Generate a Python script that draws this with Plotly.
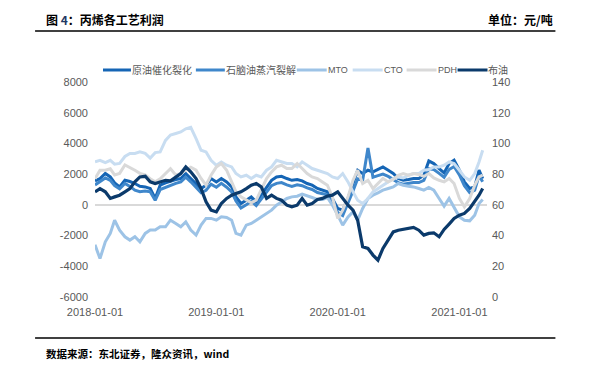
import plotly.graph_objects as go

dates = [
    "2018-01-01", "2018-01-16", "2018-02-01", "2018-02-16", "2018-03-01", "2018-03-16",
    "2018-04-01", "2018-04-16", "2018-05-01", "2018-05-16", "2018-06-01", "2018-06-16",
    "2018-07-01", "2018-07-16", "2018-08-01", "2018-08-16", "2018-09-01", "2018-09-16",
    "2018-10-01", "2018-10-16", "2018-11-01", "2018-11-16", "2018-12-01", "2018-12-16",
    "2019-01-01", "2019-01-16", "2019-02-01", "2019-02-16", "2019-03-01", "2019-03-16",
    "2019-04-01", "2019-04-16", "2019-05-01", "2019-05-16", "2019-06-01", "2019-06-16",
    "2019-07-01", "2019-07-16", "2019-08-01", "2019-08-16", "2019-09-01", "2019-09-16",
    "2019-10-01", "2019-10-16", "2019-11-01", "2019-11-16", "2019-12-01", "2019-12-16",
    "2020-01-01", "2020-01-16", "2020-02-01", "2020-02-16", "2020-03-01", "2020-03-16",
    "2020-04-01", "2020-04-16", "2020-05-01", "2020-05-16", "2020-06-01", "2020-06-16",
    "2020-07-01", "2020-07-16", "2020-08-01", "2020-08-16", "2020-09-01", "2020-09-16",
    "2020-10-01", "2020-10-16", "2020-11-01", "2020-11-16", "2020-12-01", "2020-12-16",
    "2021-01-01", "2021-01-16", "2021-02-01", "2021-02-16", "2021-03-01", "2021-03-12",
]

crude_fcc = [
    1560, 1715, 2040, 1820, 1430, 1170, 1600, 1520, 1390, 1215, 1170, 1065, 415, 1280, 1430, 1560, 1650, 1715, 2040, 1715,
    1390, 1065, 1280, 1715, 1495, 1715, 1495, 1170, 520, 90, 305, 520, 195, 630, 1170, 1600, 1820, 1860, 1715, 1600,
    1650, 1560, 1390, 1280, 1065, 955, 845, 415, -235, -345, 415, 1390, 2255, 2040, 2255, 2145, 2300, 2470, 2255, 2040,
    1715, 1600, 1650, 1715, 1715, 1930, 2860, 2690, 2365, 2080, 2690, 2905, 2255, 1495, 1065, 1170, 2255, 1715,
]
naphtha = [
    1300, 1500, 1750, 1600, 1250, 1050, 1400, 1200, 950, 850, 900, 850, 300, 1000, 1150, 1300, 1400, 1500, 1800, 1500,
    1100, 800, 950, 1350, 1150, 1400, 1150, 850, 250, -200, 0, 250, -50, 350, 850, 1250, 1400, 1450, 1300, 1200,
    1300, 1250, 1100, 1000, 800, 700, 650, 150, -500, -700, 100, 900, 1700, 1600, 3700, 1800, 1900, 2000, 1850, 1650,
    1450, 1350, 1400, 1450, 1450, 1600, 2350, 2300, 2050, 1800, 2300, 2500, 1950, 1250, 800, 950, 1900, 1500,
]
mto = [
    -2600, -3500, -2405, -1860, -1000, -1645, -2080, -2295, -2080, -2405, -1860, -1645, -1645, -1430, -1430, -1000, -1210, -1430, -1105, -1645,
    -1970, -1320, -885, -885, -1000, -780, -820, -1000, -1860, -1970, -1320, -1210, -1000, -780, -560, -345, -20, 195, 415, 520,
    565, 695, 565, 480, 350, 350, 480, -20, -670, -1320, -780, -455, -1000, -235, 415, 630, 780, 955, 1065, 1170,
    1390, 1280, 1215, 1170, 1065, 955, 1130, 955, 415, -85, 415, -130, -780, -1000, -1040, -670, 90, 350,
]
cto = [
    2800, 2900, 2750, 2900, 2650, 2700, 3150, 3350, 3350, 3450, 3350, 3050, 3400, 3450, 4200, 4550, 4650, 4750, 4950, 5050,
    4315, 3555, 3445, 2905, 2580, 2795, 2580, 2470, 2040, 1820, 1930, 1715, 1930, 1820, 2255, 2470, 2905, 2795, 2690, 2690,
    2470, 2800, 2580, 2365, 2255, 2145, 2040, 1820, 1715, 2040, 1495, 845, 305, 90, 415, 845, 1065, 1280, 1495, 1715,
    1820, 1750, 1930, 2040, 2040, 2255, 2300, 2470, 2470, 2580, 2795, 2690, 2255, 1820, 1600, 2040, 2795, 3555,
]
pdh = [
    1700, 2250, 2250, 2350, 1950, 2050, 2600, 2450, 2250, 2050, 1950, 1700, 1500, 1700, 2050, 2350, 1950, 2050, 2250, 2450,
    2255, 1715, 1280, 1930, 2470, 2690, 2255, 1495, 845, 520, 305, 130, 305, 955, 1715, 2145, 2470, 2580, 2365, 2365,
    2690, 2365, 2040, 1820, 1715, 1495, 1280, 520, -885, -345, 520, 1600, 2255, 1390, 1600, 1065, 1390, 1715, 1495, 1650,
    1930, 2040, 1930, 2040, 1980, 1850, 2040, 1750, 1600, 1495, 1715, 1390, 415, -130, 415, 1280, 1820, 1930,
]
brent = [
    68.5, 70.6, 68.5, 64.2, 65.2, 66.3, 68.5, 70.6, 75, 78.2, 78.6, 75, 73.9, 75, 76, 75.6, 78.2, 80.4, 84.7, 81.5,
    77.1, 70.6, 62, 56.6, 55.4, 60.9, 64.2, 66.3, 67.4, 68.5, 70.6, 72.8, 73.9, 71.7, 64.2, 66.3, 64.2, 63, 59.8, 58.7,
    59.8, 64.2, 59.8, 60.9, 63.5, 64.2, 65.7, 66.3, 68.5, 64.2, 59.8, 56.6, 50, 32.7, 31.6, 27.3, 24, 31.6, 37, 42.4,
    43.5, 44, 44.6, 45.3, 43.5, 40.3, 41.4, 41.8, 39.2, 44, 47.5, 51.1, 53.3, 54.4, 57.7, 62, 66.3, 70.6,
]

series_names = ["原油催化裂化", "石脑油蒸汽裂解", "MTO", "CTO", "PDH", "布油"]
colors = ["#1565B5", "#3F87CB", "#9DC3E6", "#C8DDF1", "#D9D9D9", "#0B3A6B"]

left_ticks = [8000, 6000, 4000, 2000, 0, -2000, -4000, -6000]
left_ticktext = ["8000", "6000", "4000", "2000", "0", "-2000", "-4000", "-6000"]
right_ticks = [0, 20, 40, 60, 80, 100, 120, 140]
x_ticks = ["2018-01-01", "2019-01-01", "2020-01-01", "2021-01-01"]

# the page body adds an 8px margin, so the figure is drawn 8px in from the window corner
OFF = 8
W, H = 608 - OFF, 386 - OFF
PLOT_L, PLOT_R, PLOT_T, PLOT_B = 95, 487.5, 82, 297   # plot area in window pixels
L, R = PLOT_L - OFF, W - (PLOT_R - OFF)
T, B = PLOT_T - OFF, H - (PLOT_B - OFF)
PW, PH = W - L - R, H - T - B


def fx(px):
    return (px - OFF - L) / PW


def fy(py):
    return (H - B - (py - OFF)) / PH


fig = go.Figure()
left_data = [crude_fcc, naphtha, mto, cto, pdh]
for name, vals, col in zip(series_names[:5], left_data, colors[:5]):
    fig.add_trace(go.Scatter(x=dates, y=vals, name=name, mode="lines",
                             line=dict(color=col, width=3)))
fig.add_trace(go.Scatter(x=dates, y=brent, name=series_names[5], mode="lines",
                         line=dict(color=colors[5], width=3.2), yaxis="y2"))

tick_font = dict(family="Liberation Sans, Arial, sans-serif", size=11, color="#595959")
cjk = "Noto Sans CJK SC, sans-serif"

# custom single-row legend (symbol start pixel, symbol end pixel)
legend_pos = [(103, 131), (196, 225), (297, 327), (353, 383), (407, 437), (458, 488)]
shapes = [
    dict(type="line", xref="paper", yref="paper", x0=fx(35), x1=fx(556), y0=fy(31), y1=fy(31),
         line=dict(color="black", width=1.5)),
    dict(type="line", xref="paper", yref="paper", x0=fx(35), x1=fx(556), y0=fy(338), y1=fy(338),
         line=dict(color="black", width=1.5)),
]
annotations = [
    dict(text="<b>图 <span style='color:#1F3864'>4</span>：丙烯各工艺利润</b>", xref="paper", yref="paper",
         x=fx(44), y=fy(19), xanchor="left", yanchor="middle", showarrow=False,
         font=dict(family=cjk, size=12, color="black")),
    dict(text="<b>单位：元/吨</b>", xref="paper", yref="paper",
         x=fx(556), y=fy(19), xanchor="right", yanchor="middle", showarrow=False,
         font=dict(family=cjk, size=12, color="black")),
    dict(text="<b>数据来源：东北证券，隆众资讯，wind</b>", xref="paper", yref="paper",
         x=fx(44), y=fy(353), xanchor="left", yanchor="middle", showarrow=False,
         font=dict(family=cjk, size=10.5, color="black")),
]
for (x0, x1), name, col in zip(legend_pos, series_names, colors):
    latin = name.isascii()
    shapes.append(dict(type="line", xref="paper", yref="paper", x0=fx(x0), x1=fx(x1),
                       y0=fy(70), y1=fy(70), line=dict(color=col, width=3)))
    annotations.append(dict(text=name, xref="paper", yref="paper", x=fx(x1), y=fy(70),
                            xanchor="left", yanchor="middle", showarrow=False, borderpad=0,
                            font=dict(family="Liberation Sans, Arial, sans-serif" if latin else cjk,
                                      size=9 if latin else 10, color="#595959")))

fig.update_layout(
    width=W, height=H,
    margin=dict(l=L, r=R, t=T, b=B, autoexpand=False),
    paper_bgcolor="white", plot_bgcolor="white",
    showlegend=False,
    xaxis=dict(type="date", range=["2018-01-01", "2021-03-25"], tickvals=x_ticks, ticktext=x_ticks,
               showgrid=False, zeroline=False, showline=False, ticks="", tickfont=tick_font,
               ticklabelstandoff=7, automargin=False),
    yaxis=dict(range=[-6000, 8000], tickvals=left_ticks, ticktext=left_ticktext, showgrid=False,
               zeroline=True, zerolinecolor="#D9D9D9", zerolinewidth=1.5, showline=False, ticks="",
               tickfont=tick_font, ticklabelstandoff=6, automargin=False),
    yaxis2=dict(range=[0, 140], tickvals=right_ticks, overlaying="y", side="right", showgrid=False,
                zeroline=False, showline=False, ticks="", tickfont=tick_font, ticklabelstandoff=4,
                automargin=False),
    shapes=shapes,
    annotations=annotations,
)

fig.write_html("out.html")
